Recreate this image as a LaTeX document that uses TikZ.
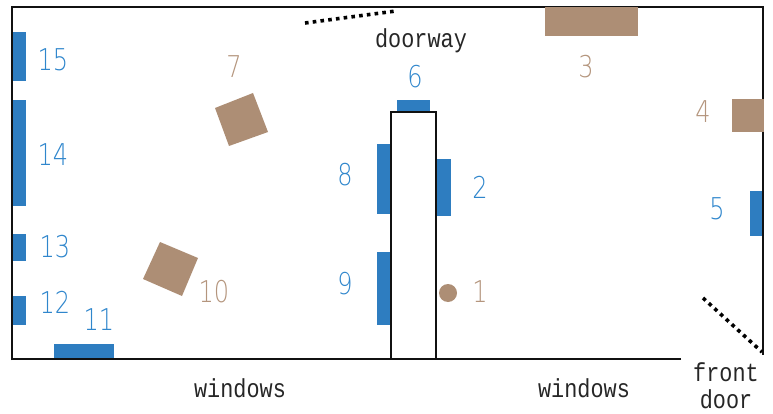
\documentclass[tikz,border=0pt]{standalone}
\usepackage{graphicx}
\usepackage{fontspec}
\newfontfamily\numfont{DejaVu Sans ExtraLight}
\newfontfamily\labelfont{Liberation Mono}
\newcommand{\narrownum}[1]{\scalebox{0.8}[1]{#1}}
\newcommand{\narrowword}[1]{\scalebox{0.84}[1]{#1}}
\definecolor{seatblue}{HTML}{2E7DC0}
\definecolor{seattan}{HTML}{AD8E75}
\definecolor{numblue}{HTML}{2F86CC}
\definecolor{numtan}{HTML}{B4957D}
\definecolor{inkline}{HTML}{111111}
\tikzset{
  wall/.style={draw=inkline,line width=1.9pt,line cap=butt},
  bluebox/.style={fill=seatblue,draw=none},
  tanbox/.style={fill=seattan,draw=none},
  dottedwall/.style={draw=black,line width=3.6pt,dash pattern=on 3.6pt off 4.2pt},
  bluenum/.style={text=numblue,font=\numfont\fontsize{30}{30}\selectfont,inner sep=0pt},
  tannum/.style={text=numtan,font=\numfont\fontsize{30}{30}\selectfont,inner sep=0pt},
  word/.style={text=black!85,font=\labelfont\fontsize{26}{26}\selectfont,inner sep=0pt}
}
\begin{document}
\begin{tikzpicture}[x=1pt,y=-1pt]
\useasboundingbox (0,0) rectangle (773,414);
% walls
\draw[wall] (681,359) -- (11.5,359);
\draw[wall] (12.4,360) -- (12.4,6.4);
\draw[wall] (11.5,7.4) -- (763.6,7.4);
\draw[wall] (762.8,6.4) -- (762.8,355);
\draw[wall] (391,359) -- (391,112) -- (436,112) -- (436,359);
% tan furniture
\fill[tanbox] (545,7) rectangle (638,36);
\fill[tanbox] (732,99) rectangle (763.5,132);
\fill[tanbox] (253,93) -- (268,132) -- (229,146) -- (215,108) -- cycle;
\fill[tanbox] (160,242) -- (198,258) -- (182,296) -- (143,279) -- cycle;
\fill[tanbox] (448,293) circle (9);
% blue furniture
\fill[bluebox] (13,32) rectangle (26,81);
\fill[bluebox] (13,100) rectangle (26,206);
\fill[bluebox] (13,234) rectangle (26,261);
\fill[bluebox] (13,296) rectangle (26,325);
\fill[bluebox] (54,344) rectangle (114,358);
\fill[bluebox] (377,144) rectangle (390,214);
\fill[bluebox] (377,252) rectangle (390,325);
\fill[bluebox] (437,159) rectangle (451,216);
\fill[bluebox] (397,100) rectangle (430,111);
\fill[bluebox] (750,191) rectangle (762,236);
% doors
\draw[dottedwall] (305,23) -- (396,11);
\draw[dottedwall] (703,298) -- (762,352);
% numbers
\node[tannum] (n1) at (480,292) {\narrownum{1}};
\node[bluenum] (n2) at (480,187) {\narrownum{2}};
\node[tannum] (n3) at (586,67) {\narrownum{3}};
\node[tannum] (n4) at (703,112) {\narrownum{4}};
\node[bluenum] (n5) at (717,209) {\narrownum{5}};
\node[bluenum] (n6) at (415,77) {\narrownum{6}};
\node[tannum] (n7) at (234,67) {\narrownum{7}};
\node[bluenum] (n8) at (345,175) {\narrownum{8}};
\node[bluenum] (n9) at (345,284) {\narrownum{9}};
\node[tannum] (n10) at (214,292) {\narrownum{10}};
\node[bluenum] (n11) at (99,320) {\narrownum{11}};
\node[bluenum] (n12) at (55,302) {\narrownum{12}};
\node[bluenum] (n13) at (55,247) {\narrownum{13}};
\node[bluenum] (n14) at (53,155) {\narrownum{14}};
\node[bluenum] (n15) at (53,60) {\narrownum{15}};
% words
\node[word] (doorway) at (421,41) {\narrowword{doorway}};
\node[word] (win1) at (240,388) {\narrowword{windows}};
\node[word] (win2) at (584,388) {\narrowword{windows}};
\node[word] (front) at (726,372) {\narrowword{front}};
\node[word] (door) at (726,399) {\narrowword{door}};
\end{tikzpicture}
\end{document}
